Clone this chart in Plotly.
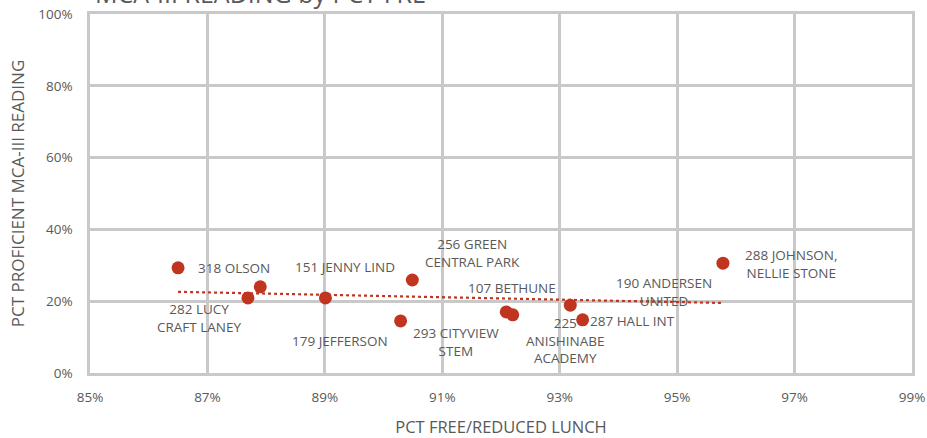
import numpy as np
import plotly.graph_objects as go

# Data (fractions)
schools = ["318 OLSON", "282 LUCY<br>CRAFT LANEY", "151 JENNY LIND", "179 JEFFERSON",
           "293 CITYVIEW<br>STEM", "256 GREEN<br>CENTRAL PARK", "107 BETHUNE",
           "190 ANDERSEN<br>UNITED", "225<br>ANISHINABE<br>ACADEMY", "287 HALL INT",
           "288 JOHNSON,<br>NELLIE STONE"]
pct_frl = [0.8650, 0.8769, 0.8790, 0.8901, 0.9029, 0.9049, 0.9209, 0.9220, 0.9318, 0.9339, 0.9578]
pct_prof = [0.293, 0.209, 0.240, 0.209, 0.145, 0.259, 0.170, 0.162, 0.189, 0.148, 0.306]
# label offsets in pixels (x right, y up) relative to each point
label_dx = [56, -48, 85, 15, 55, 60, 6, 151, -5, 50, 68]
label_dy = [0, -20, 20, -43, -21, 27, 24, 23, -35, -1, -1]

x_ticks = [0.85, 0.87, 0.89, 0.91, 0.93, 0.95, 0.97, 0.99]
x_tick_text = ["85%", "87%", "89%", "91%", "93%", "95%", "97%", "99%"]
y_ticks = [0, 0.2, 0.4, 0.6, 0.8, 1.0]
y_tick_text = ["0%", "20%", "40%", "60%", "80%", "100%"]

red = "#c0351f"
gray_text = "#595959"
grid = "#c9c9c9"
font_family = "Open Sans, Lato, sans-serif"

slope, intercept = np.polyfit(pct_frl, pct_prof, 1)
tx = [min(pct_frl), max(pct_frl)]
ty = [slope * v + intercept for v in tx]

fig = go.Figure()
fig.add_trace(go.Scatter(x=tx, y=ty, mode="lines",
                         line=dict(color=red, width=2.2, dash="dot"),
                         hoverinfo="skip", showlegend=False))
fig.add_trace(go.Scatter(x=pct_frl, y=pct_prof, mode="markers",
                         marker=dict(color=red, size=13),
                         text=schools, showlegend=False))

for name, xv, yv, dx, dy in zip(schools, pct_frl, pct_prof, label_dx, label_dy):
    fig.add_annotation(x=xv, y=yv, text=name, showarrow=False,
                       xshift=dx, yshift=dy,
                       font=dict(size=13.5, color=gray_text, family=font_family),
                       align="center")

# chart title, mostly above the visible page (as in the reference crop)
fig.add_annotation(x=0.0, y=1.0, xref="paper", yref="paper", text="MCA-III READING by PCT FRL",
                   showarrow=False, xanchor="left", yanchor="bottom", xshift=3, yshift=2,
                   font=dict(size=25, color=gray_text, family=font_family))

fig.update_layout(
    width=927, height=438,
    margin=dict(l=90, r=15, t=14, b=65, autoexpand=False),
    paper_bgcolor="white", plot_bgcolor="white",
    font=dict(family=font_family, color=gray_text),
)
fig.update_xaxes(range=[0.85, 0.99], tickvals=x_ticks, ticktext=x_tick_text,
                 showgrid=True, gridcolor=grid, gridwidth=2.5,
                 showline=True, linecolor=grid, linewidth=2.5, mirror=True,
                 zeroline=False, ticks="", ticklabelstandoff=10, automargin=False,
                 tickfont=dict(size=13.5, color=gray_text),
                 title=dict(text="PCT FREE/REDUCED LUNCH", standoff=18,
                            font=dict(size=16.5, color=gray_text)))
fig.update_yaxes(range=[0, 1.0], tickvals=y_ticks, ticktext=y_tick_text,
                 showgrid=True, gridcolor=grid, gridwidth=2.5,
                 showline=True, linecolor=grid, linewidth=2.5, mirror=True,
                 zeroline=False, ticks="", ticklabelstandoff=12, automargin=False,
                 tickfont=dict(size=13.5, color=gray_text),
                 title=dict(text="PCT PROFICIENT MCA-III READING", standoff=10,
                            font=dict(size=17, color=gray_text)))

fig.write_html("out.html", config={"displayModeBar": False},
               post_script="document.body.style.margin='0';document.body.style.padding='0';")
